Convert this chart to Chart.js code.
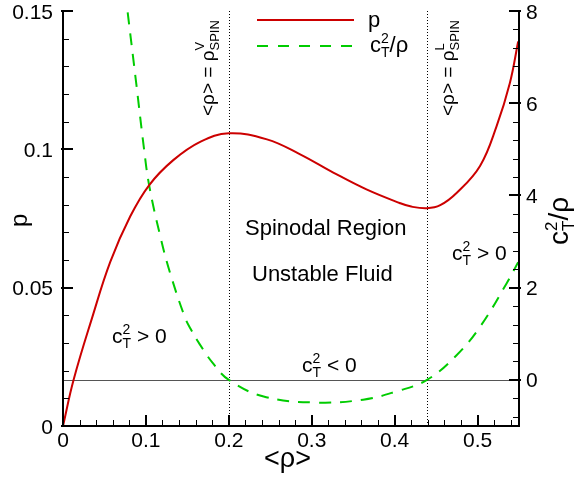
<!DOCTYPE html>
<html>
<head>
<meta charset="utf-8">
<script src="https://cdn.jsdelivr.net/npm/chart.js@4.4.0/dist/chart.umd.min.js"></script>
<style>
  html, body { margin: 0; padding: 0; background: #ffffff; }
  canvas { display: block; }
</style>
</head>
<body>
<canvas id="spinodalChart" width="579" height="477"></canvas>
<script>
// pressure p against mean density <rho>
const rhoP = [0, 0.0128, 0.035, 0.057, 0.081, 0.104, 0.133, 0.166, 0.2, 0.246, 0.286, 0.326, 0.366, 0.406, 0.42, 0.439, 0.455, 0.475, 0.503, 0.523, 0.539, 0.549];
const pValues = [0, 0.0167, 0.039, 0.0593, 0.0757, 0.0871, 0.0961, 0.1028, 0.1058, 0.1036, 0.0982, 0.0916, 0.0855, 0.0806, 0.0793, 0.0787, 0.0798, 0.0843, 0.094, 0.1084, 0.124, 0.139];

// c_T^2 / rho against <rho> (right axis)
const rhoC = [0.078, 0.088, 0.098, 0.104, 0.117, 0.129, 0.147, 0.155, 0.165, 0.18, 0.2, 0.242, 0.302, 0.362, 0.402, 0.439, 0.475, 0.503, 0.535, 0.549];
const cValues = [7.97, 6.48, 4.97, 4.21, 3.14, 2.33, 1.36, 1.07, 0.77, 0.38, 0, -0.36, -0.49, -0.43, -0.25, 0, 0.54, 1.15, 2.09, 2.55];

// spinodal densities (dotted verticals)
const spinodalRho = [0.2, 0.439];

// tick labels
const xTicks = [0, 0.1, 0.2, 0.3, 0.4, 0.5];
const yTicks = [0, 0.05, 0.1, 0.15];
const y2Ticks = [0, 2, 4, 6, 8];

const FONT = "'Liberation Sans', Arial, sans-serif";
const COLORS = {
  RED: "#cc0000",
  GREEN: "#00cc00",
  AXIS: "#000000",
  ZERO: "#555555",
  TEXT: "#000000"
};

function drawRich(ctx, parts, x, y) {
  let cx = x;
  parts.forEach(([text, size, dy, keep]) => {
    ctx.font = size + "px " + FONT;
    ctx.fillText(text, cx, y + (dy || 0));
    if (!keep) {
      cx += ctx.measureText(text).width;
    }
  });
}

function drawRichUp(ctx, parts, x, y) {
  ctx.save();
  ctx.translate(x, y);
  ctx.rotate(-Math.PI / 2);
  drawRich(ctx, parts, 0, 0);
  ctx.restore();
}

function range(from, to, step) {
  const out = [];
  for (let i = 0; from + i * step <= to + 1e-9; i++) {
    out.push(from + i * step);
  }
  return out;
}

const framePlugin = {
  id: "frame",

  beforeDatasetsDraw(chart) {
    const { ctx, chartArea: a, scales } = chart;
    ctx.save();
    // c_T^2 = 0 line
    const y0 = Math.round(scales.y2.getPixelForValue(0)) + 0.5;
    ctx.strokeStyle = COLORS.ZERO;
    ctx.lineWidth = 1;
    ctx.beginPath();
    ctx.moveTo(a.left, y0);
    ctx.lineTo(a.right, y0);
    ctx.stroke();
    // spinodal verticals
    ctx.strokeStyle = "#000000";
    ctx.setLineDash([1, 2]);
    spinodalRho.forEach((r) => {
      const px = Math.round(scales.x.getPixelForValue(r)) + 0.5;
      ctx.beginPath();
      ctx.moveTo(px, a.top);
      ctx.lineTo(px, a.bottom);
      ctx.stroke();
    });
    ctx.restore();
  },

  afterDraw(chart) {
    const { ctx, chartArea: a, scales } = chart;
    ctx.save();
    ctx.strokeStyle = COLORS.AXIS;

    // axis lines (no top border)
    ctx.lineWidth = 2;
    ctx.beginPath();
    ctx.moveTo(a.left, a.top);
    ctx.lineTo(a.left, a.bottom);
    ctx.lineTo(a.right, a.bottom);
    ctx.lineTo(a.right, a.top);
    ctx.stroke();

    // inward tick marks
    const xMinor = range(0, 0.55, 0.02);
    const yMinor = range(0, 0.15, 0.01);
    const y2Minor = range(-0.8, 8, 0.4);

    ctx.lineWidth = 1;
    xMinor.forEach((v) => {
      const px = Math.round(scales.x.getPixelForValue(v)) + 0.5;
      ctx.beginPath(); ctx.moveTo(px, a.bottom); ctx.lineTo(px, a.bottom - 6); ctx.stroke();
    });
    yMinor.forEach((v) => {
      const py = Math.round(scales.y.getPixelForValue(v)) + 0.5;
      ctx.beginPath(); ctx.moveTo(a.left, py); ctx.lineTo(a.left + 6, py); ctx.stroke();
    });
    y2Minor.forEach((v) => {
      const py = Math.round(scales.y2.getPixelForValue(v)) + 0.5;
      ctx.beginPath(); ctx.moveTo(a.right, py); ctx.lineTo(a.right - 6, py); ctx.stroke();
    });

    ctx.lineWidth = 2;
    xTicks.forEach((v) => {
      const px = Math.round(scales.x.getPixelForValue(v));
      ctx.beginPath(); ctx.moveTo(px, a.bottom); ctx.lineTo(px, a.bottom - 11); ctx.stroke();
    });
    yTicks.forEach((v) => {
      const py = Math.round(scales.y.getPixelForValue(v));
      ctx.beginPath(); ctx.moveTo(a.left - 2, py); ctx.lineTo(a.left + 10, py); ctx.stroke();
    });
    y2Ticks.forEach((v) => {
      const py = Math.round(scales.y2.getPixelForValue(v));
      ctx.beginPath(); ctx.moveTo(a.right + 2, py); ctx.lineTo(a.right - 10, py); ctx.stroke();
    });

    // tick labels
    ctx.fillStyle = COLORS.TEXT;
    ctx.font = "21px " + FONT;
    ctx.textBaseline = "alphabetic";
    ctx.textAlign = "right";
    yTicks.forEach((v) => {
      ctx.fillText(String(v), a.left - 10, scales.y.getPixelForValue(v) + 7.5);
    });
    ctx.textAlign = "center";
    xTicks.forEach((v) => {
      ctx.fillText(String(v), scales.x.getPixelForValue(v), a.bottom + 21);
    });
    ctx.textAlign = "left";
    y2Ticks.forEach((v) => {
      ctx.fillText(String(v), a.right + 7, scales.y2.getPixelForValue(v) + 7.5);
    });

    // legend
    ctx.lineWidth = 2;
    ctx.strokeStyle = COLORS.RED;
    ctx.beginPath(); ctx.moveTo(257, 20); ctx.lineTo(354, 20); ctx.stroke();
    ctx.strokeStyle = COLORS.GREEN;
    ctx.setLineDash([11, 10]);
    ctx.beginPath(); ctx.moveTo(257, 46); ctx.lineTo(354, 46); ctx.stroke();
    ctx.setLineDash([]);

    drawRich(ctx, [["p", 22, 0]], 368, 27);
    drawRich(ctx, [["c", 22, 0], ["2", 14, -9, true], ["T", 14, 5], ["/\u03c1", 22, 0]], 370, 52);

    // axis titles
    drawRich(ctx, [["<\u03c1>", 27, 0]], 264, 467);
    drawRichUp(ctx, [["p", 24, 0]], 27, 227);
    drawRichUp(ctx, [["c", 28, 0], ["2", 17, -11, true], ["T", 17, 6], ["/\u03c1", 28, 0]], 568, 245);

    // spinodal annotations
    drawRichUp(ctx, [["<\u03c1> = \u03c1", 19, 0], ["V", 13, -10, true], ["SPIN", 13, 5]], 214, 116);
    drawRichUp(ctx, [["<\u03c1> = \u03c1", 19, 0], ["L", 13, -10, true], ["SPIN", 13, 5]], 454, 116);

    // region labels
    drawRich(ctx, [["Spinodal Region", 22, 0]], 245, 235);
    drawRich(ctx, [["Unstable Fluid", 22, 0]], 252, 281);
    drawRich(ctx, [["c", 21, 0], ["2", 14, -9, true], ["T", 14, 5], [" > 0", 21, 0]], 112, 343);
    drawRich(ctx, [["c", 21, 0], ["2", 14, -9, true], ["T", 14, 5], [" > 0", 21, 0]], 452, 260);
    drawRich(ctx, [["c", 21, 0], ["2", 14, -9, true], ["T", 14, 5], [" < 0", 21, 0]], 302, 372);

    ctx.restore();
  }
};

new Chart(document.getElementById("spinodalChart").getContext("2d"), {
  type: "line",
  data: {
    datasets: [
      {
        label: "p",
        data: rhoP.map((r, i) => ({ x: r, y: pValues[i] })),
        yAxisID: "y",
        borderColor: COLORS.RED,
        borderWidth: 2,
        pointRadius: 0,
        tension: 0.4,
        fill: false
      },
      {
        label: "c_T^2/rho",
        data: rhoC.map((r, i) => ({ x: r, y: cValues[i] })),
        yAxisID: "y2",
        borderColor: COLORS.GREEN,
        borderWidth: 2,
        borderDash: [12, 9],
        pointRadius: 0,
        tension: 0.4,
        fill: false
      }
    ]
  },
  options: {
    responsive: false,
    animation: false,
    devicePixelRatio: 1,
    layout: { padding: { top: 11, left: 0, right: 0, bottom: 0 } },
    plugins: {
      legend: { display: false },
      tooltip: { enabled: false }
    },
    scales: {
      x: {
        type: "linear",
        position: "bottom",
        min: 0,
        max: 0.55,
        afterFit: (scale) => { scale.height = 51; scale.paddingLeft = 0; scale.paddingRight = 0; },
        ticks: { display: false },
        grid: { display: false },
        border: { display: false }
      },
      y: {
        type: "linear",
        position: "left",
        min: 0,
        max: 0.15,
        afterFit: (scale) => { scale.width = 63; scale.paddingTop = 0; scale.paddingBottom = 0; },
        ticks: { display: false },
        grid: { display: false },
        border: { display: false }
      },
      y2: {
        type: "linear",
        position: "right",
        min: -1,
        max: 8,
        afterFit: (scale) => { scale.width = 60; scale.paddingTop = 0; scale.paddingBottom = 0; },
        ticks: { display: false },
        grid: { display: false },
        border: { display: false }
      }
    }
  },
  plugins: [framePlugin]
});
</script>
</body>
</html>
